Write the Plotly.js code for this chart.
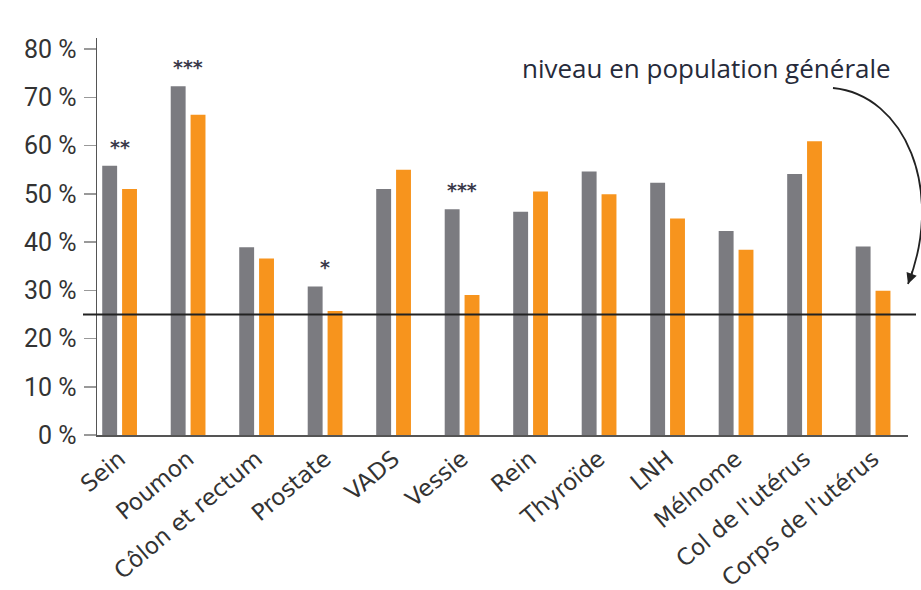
<!DOCTYPE html>
<html>
<head>
<meta charset="utf-8">
<script src="https://cdn.plot.ly/plotly-3.0.1.min.js"></script>
<style>
  html, body { margin: 0; padding: 0; background: #ffffff; }
  #chart { width: 921px; height: 590px; }
</style>
</head>
<body>
<div id="chart"></div>
<script>
// Cancer sites shown along the x axis
const categories = ['Sein', 'Poumon', 'Côlon et rectum', 'Prostate', 'VADS', 'Vessie',
  'Rein', 'Thyroïde', 'LNH', 'Mélnome', "Col de l'utérus", "Corps de l'utérus"];

// Share (%) for the two compared groups
const greyValues   = [55.8, 72.3, 38.9, 30.8, 51.0, 46.8, 46.3, 54.6, 52.3, 42.3, 54.1, 39.1];
const orangeValues = [51.0, 66.4, 36.6, 25.7, 55.0, 29.0, 50.5, 49.9, 44.9, 38.4, 60.9, 29.9];

// Significance marks placed above the matching groups
const starCategories = ['Sein', 'Poumon', 'Prostate', 'Vessie'];
const starLabels     = ['**', '***', '*', '***'];

// General-population reference level (%)
const generalLevel = 25;

// Y axis ticks
const yTickValues = [0, 10, 20, 30, 40, 50, 60, 70, 80];
const yTickLabels = ['0 %', '10 %', '20 %', '30 %', '40 %', '50 %', '60 %', '70 %', '80 %'];

const GREY = '#7b7b80';
const ORANGE = '#f7941d';
const TEXT = '#333333';

// plot box in pixels, used for converting the curved arrow into paper coordinates
const W = 921, H = 590;
const M = { l: 97, r: 13, t: 38, b: 155 };
const plotW = W - M.l - M.r, plotH = H - M.t - M.b;
const px = x => (x - M.l) / plotW;
const py = y => (H - M.b - y) / plotH;

const traces = [
  {
    type: 'bar', x: categories, y: greyValues, name: 'gris',
    marker: { color: GREY }, hoverinfo: 'x+y'
  },
  {
    type: 'bar', x: categories, y: orangeValues, name: 'orange',
    marker: { color: ORANGE }, hoverinfo: 'x+y'
  }
];

const starAnnotations = starCategories.map((c, i) => {
  const idx = categories.indexOf(c);
  return {
    x: c, y: Math.max(greyValues[idx], orangeValues[idx]),
    xref: 'x', yref: 'y', text: starLabels[i], showarrow: false,
    yanchor: 'bottom', yshift: 6,
    font: { family: 'DejaVu Sans', size: 19, color: '#3a3a4a', weight: 'bold' }
  };
});

// curved arrow from the caption down to the reference line
const c0 = [833, 88], c1 = [905, 95], c2 = [945, 190], c3 = [908, 284];
const arrowPath = `M ${px(c0[0])} ${py(c0[1])} C ${px(c1[0])} ${py(c1[1])}, ${px(c2[0])} ${py(c2[1])}, ${px(c3[0])} ${py(c3[1])}`;

const layout = {
  width: W, height: H,
  margin: M,
  paper_bgcolor: '#ffffff', plot_bgcolor: '#ffffff',
  showlegend: false,
  barmode: 'group', bargap: 0.42, bargroupgap: 0.25,
  xaxis: {
    type: 'category', range: [-0.33, 11.51],
    showline: true, linecolor: '#555555', linewidth: 1.5,
    ticks: '', showgrid: false, zeroline: false,
    tickangle: -40,
    tickfont: { family: 'DejaVu Sans', size: 23, color: TEXT }
  },
  yaxis: {
    range: [0, 82.3],
    tickvals: yTickValues, ticktext: yTickLabels,
    showline: true, linecolor: '#555555', linewidth: 1.5,
    ticks: 'outside', ticklen: 12, tickcolor: '#999999', tickwidth: 1.5,
    ticklabelstandoff: 2,
    showgrid: false, zeroline: false,
    tickfont: { family: 'Roboto', size: 25, color: TEXT }
  },
  shapes: [
    {
      type: 'line', xref: 'paper', yref: 'y',
      x0: px(83), x1: px(916), y0: generalLevel, y1: generalLevel,
      line: { color: '#222222', width: 2 }
    },
    {
      type: 'path', xref: 'paper', yref: 'paper', path: arrowPath,
      line: { color: '#222222', width: 1.8 }
    }
  ],
  annotations: starAnnotations.concat([
    {
      xref: 'paper', yref: 'paper', x: px(893), y: py(68),
      xanchor: 'right', yanchor: 'middle', showarrow: false,
      text: 'niveau en population générale',
      font: { family: 'Open Sans', size: 26, color: '#262a3a' }
    },
    {
      // arrowhead at the end of the curve
      xref: 'paper', yref: 'paper', x: px(c3[0]), y: py(c3[1]),
      axref: 'pixel', ayref: 'pixel', ax: 5, ay: -14,
      text: '', showarrow: true, arrowhead: 2, arrowsize: 1.2,
      arrowwidth: 1.8, arrowcolor: '#222222'
    }
  ])
};

Plotly.newPlot('chart', traces, layout, { displayModeBar: false, staticPlot: true });
</script>
</body>
</html>
